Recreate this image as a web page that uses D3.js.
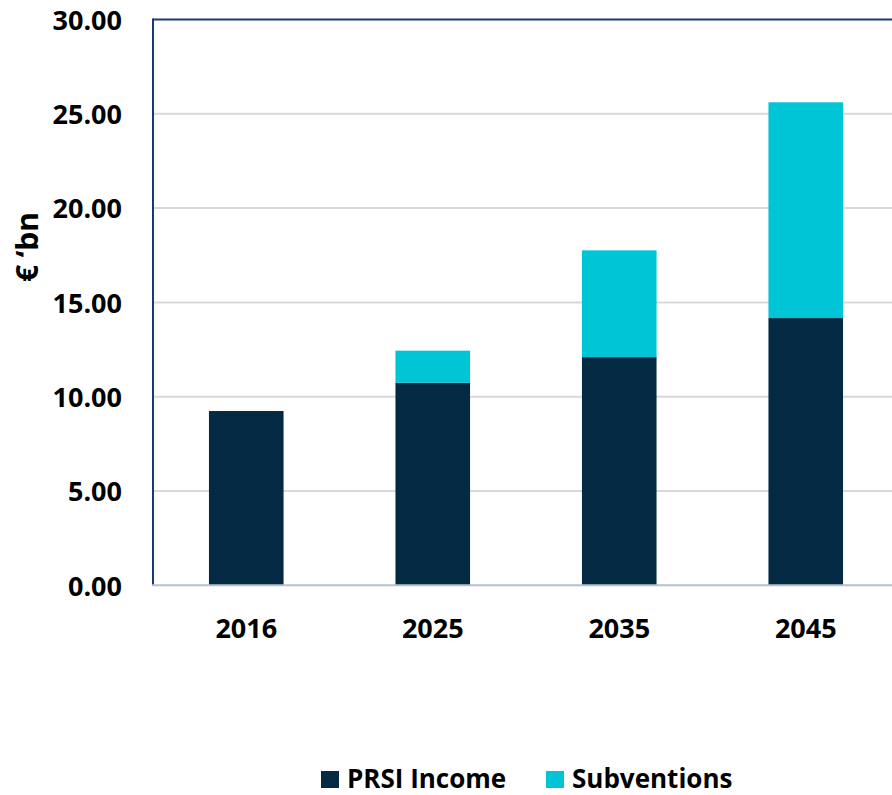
<!DOCTYPE html>
<html>
<head>
<meta charset="utf-8">
<script src="https://cdn.jsdelivr.net/npm/d3@7"></script>
<style>
  html, body { margin: 0; padding: 0; background: #fff; }
  svg { display: block; }
  text { font-family: "Open Sans", "Noto Sans", sans-serif; font-weight: 700; fill: #000; }
</style>
</head>
<body>
<svg id="chart" width="892" height="795"></svg>
<script>
// Social Insurance Fund income, € billions
const years = ["2016", "2025", "2035", "2045"];
const prsiIncome = [9.24, 10.74, 12.10, 14.17];
const subventions = [0.00, 1.70, 5.66, 11.44];
const seriesNames = ["PRSI Income", "Subventions"];
const seriesColors = ["#032a42", "#00c5d6"];
const yTicks = [0, 5, 10, 15, 20, 25, 30];

const svg = d3.select("#chart");
const plotLeft = 153, plotRight = 899, plotTop = 19.5, plotBottom = 585.3;

const x = d3.scaleBand().domain(years).range([plotLeft, plotRight])
  .paddingInner(0.6).paddingOuter(0.3);
const y = d3.scaleLinear().domain([0, 30]).range([plotBottom, plotTop]);

// horizontal gridlines
svg.append("g").selectAll("line")
  .data(yTicks.filter(t => t > 0 && t < 30))
  .join("line")
  .attr("x1", plotLeft).attr("x2", 892)
  .attr("y1", d => y(d)).attr("y2", d => y(d))
  .attr("stroke", "#d9d9d9").attr("stroke-width", 2);

// stacked bars
const rows = years.map((yr, i) => ({ year: yr, "PRSI Income": prsiIncome[i], "Subventions": subventions[i] }));
const stacked = d3.stack().keys(seriesNames)(rows);

svg.append("g").selectAll("g")
  .data(stacked)
  .join("g")
  .attr("fill", (d, i) => seriesColors[i])
  .selectAll("rect")
  .data(d => d.filter(p => p[1] - p[0] > 0))
  .join("rect")
  .attr("x", d => x(d.data.year))
  .attr("width", x.bandwidth())
  .attr("y", d => y(d[1]))
  .attr("height", d => y(d[0]) - y(d[1]));

// plot frame: dark left and top edges, light baseline
svg.append("line").attr("x1", plotLeft).attr("x2", 892).attr("y1", plotTop).attr("y2", plotTop)
  .attr("stroke", "#1c3773").attr("stroke-width", 2);
svg.append("line").attr("x1", plotLeft).attr("x2", plotLeft).attr("y1", plotTop - 1).attr("y2", plotBottom)
  .attr("stroke", "#1c3773").attr("stroke-width", 2);
svg.append("line").attr("x1", plotLeft - 1).attr("x2", 892).attr("y1", plotBottom).attr("y2", plotBottom)
  .attr("stroke", "#b7c0d2").attr("stroke-width", 2);

// y axis labels
const yAxis = d3.axisLeft(y).tickValues(yTicks).tickFormat(d3.format(".2f")).tickSize(0).tickPadding(0);
const gy = svg.append("g").attr("transform", `translate(122,0)`).call(yAxis);
gy.select(".domain").remove();
gy.selectAll("text").attr("font-size", 27).attr("font-family", null).attr("dy", "0.36em");

// x axis labels
const xAxis = d3.axisBottom(x).tickSize(0).tickPadding(0);
const gx = svg.append("g").attr("transform", `translate(0,638)`).call(xAxis);
gx.select(".domain").remove();
gx.selectAll("text").attr("font-size", 27).attr("font-family", null).attr("dy", 0);

// y axis title
svg.append("text")
  .attr("transform", "translate(38,247) rotate(-90)")
  .attr("text-anchor", "middle")
  .attr("font-size", 30)
  .text("€ ‘bn");

// legend
const legendX = [321, 546];
const lg = svg.append("g").selectAll("g").data(seriesNames).join("g")
  .attr("transform", (d, i) => `translate(${legendX[i]},771)`);
lg.append("rect").attr("width", 18).attr("height", 17).attr("fill", (d, i) => seriesColors[i]);
lg.append("text").attr("x", 26).attr("y", 17).attr("font-size", 26).text(d => d);
</script>
</body>
</html>
